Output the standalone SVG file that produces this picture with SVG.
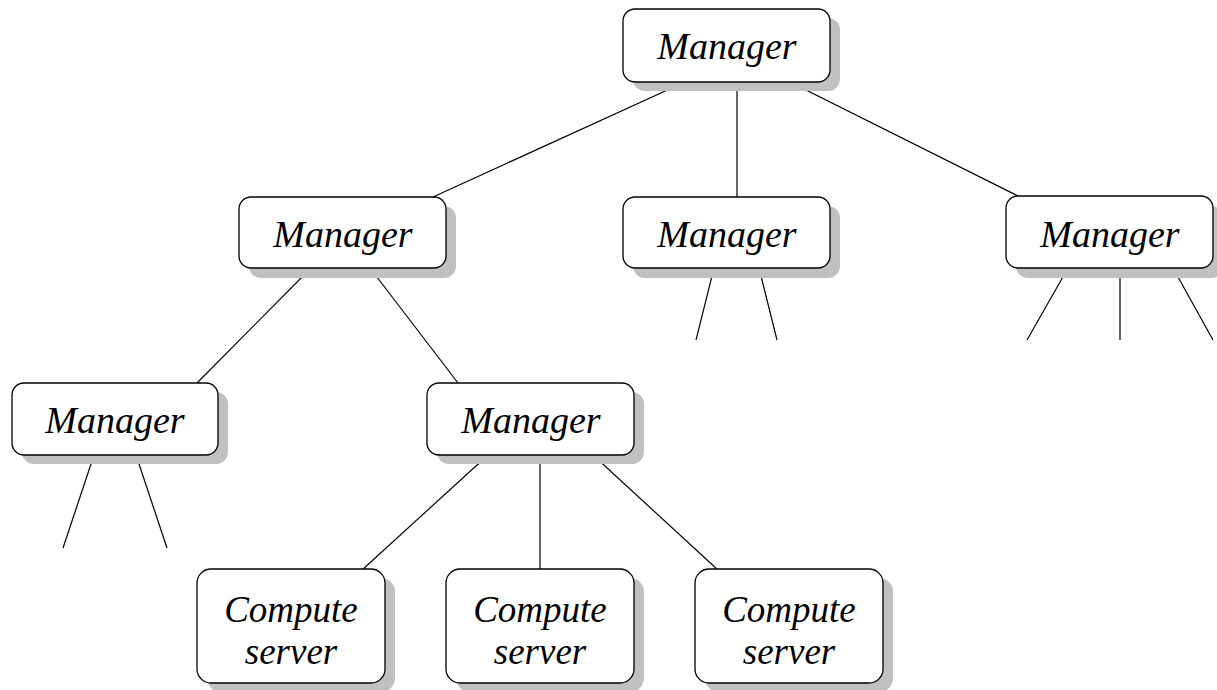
<svg xmlns="http://www.w3.org/2000/svg" width="1217" height="690" viewBox="0 0 1217 690">
<style>
.sh{fill:#c0c0c0;stroke:none}
.bx{fill:#fff;stroke:#000;stroke-width:1.3}
.t{font-family:"Liberation Serif",serif;font-style:italic;font-size:38px;fill:#000;text-anchor:middle}
.c{font-size:37px}
#connectors line{stroke:#000;stroke-width:1.2}
</style>
<rect width="1217" height="690" fill="#fff"/>
<g id="connectors">
<line x1="685" y1="82" x2="433" y2="197"/>
<line x1="737" y1="82" x2="737" y2="197"/>
<line x1="790" y1="82" x2="1020" y2="197"/>
<line x1="714" y1="268" x2="696" y2="340"/>
<line x1="759" y1="268" x2="777" y2="340"/>
<line x1="1068" y1="268" x2="1027" y2="340"/>
<line x1="1120" y1="268" x2="1120" y2="340"/>
<line x1="1173" y1="268" x2="1213" y2="340"/>
<line x1="311" y1="268" x2="197" y2="383"/>
<line x1="370" y1="268" x2="458" y2="383"/>
<line x1="94" y1="455" x2="63" y2="548"/>
<line x1="136" y1="455" x2="167" y2="548"/>
<line x1="488" y1="455" x2="362" y2="570"/>
<line x1="540" y1="455" x2="540" y2="570"/>
<line x1="593" y1="455" x2="718" y2="570"/>
</g>
<g id="m0"><rect class="sh" x="633" y="18" width="207" height="73" rx="12"/><rect class="bx" x="623" y="9" width="207" height="73" rx="12"/><text class="t" x="727" y="59">Manager</text></g>
<g id="m1"><rect class="sh" x="249" y="206" width="207" height="72" rx="12"/><rect class="bx" x="239" y="197" width="207" height="71" rx="12"/><text class="t" x="343" y="247">Manager</text></g>
<g id="m2"><rect class="sh" x="633" y="206" width="207" height="72" rx="12"/><rect class="bx" x="623" y="197" width="207" height="71" rx="12"/><text class="t" x="727" y="247">Manager</text></g>
<g id="m3"><rect class="sh" x="1016" y="206" width="207" height="72" rx="12"/><rect class="bx" x="1006" y="196" width="207" height="72" rx="12"/><text class="t" x="1110" y="247">Manager</text></g>
<g id="m4"><rect class="sh" x="22" y="392" width="206" height="72" rx="12"/><rect class="bx" x="12" y="383" width="206" height="72" rx="12"/><text class="t" x="115" y="433">Manager</text></g>
<g id="m5"><rect class="sh" x="437" y="392" width="207" height="72" rx="12"/><rect class="bx" x="427" y="383" width="207" height="72" rx="12"/><text class="t" x="531" y="433">Manager</text></g>
<g id="c1"><rect class="sh" x="207" y="578" width="188" height="114" rx="14"/><rect class="bx" x="197" y="569" width="188" height="114" rx="14"/><text class="t c" x="291" y="622">Compute</text><text class="t c" x="291" y="664">server</text></g>
<g id="c2"><rect class="sh" x="456" y="578" width="188" height="114" rx="14"/><rect class="bx" x="446" y="569" width="188" height="114" rx="14"/><text class="t c" x="540" y="622">Compute</text><text class="t c" x="540" y="664">server</text></g>
<g id="c3"><rect class="sh" x="705" y="578" width="188" height="114" rx="14"/><rect class="bx" x="695" y="569" width="188" height="114" rx="14"/><text class="t c" x="789" y="622">Compute</text><text class="t c" x="789" y="664">server</text></g>
</svg>
